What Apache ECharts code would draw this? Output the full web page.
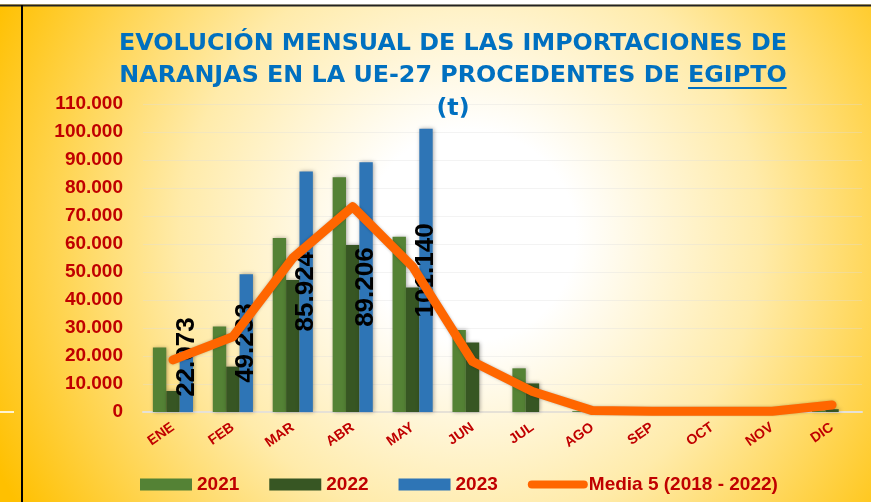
<!DOCTYPE html>
<html>
<head>
<meta charset="utf-8">
<script src="https://cdn.jsdelivr.net/npm/echarts@6/dist/echarts.min.js"></script>
<style>html,body{margin:0;padding:0;}#c{width:871px;height:502px;}</style>
</head>
<body>
<div id="c"></div>
<script>
const categories = ['ENE','FEB','MAR','ABR','MAY','JUN','JUL','AGO','SEP','OCT','NOV','DIC'];
const y2021 = [23000, 30500, 62100, 83800, 62600, 29300, 15600, 300, 0, 0, 0, 500];
const y2022 = [7500, 16200, 47100, 59600, 44500, 24800, 10200, 1000, 0, 0, 0, 1000];
const y2023 = [22073, 49233, 85924, 89206, 101140, null, null, null, null, null, null, null];
const media5 = [18600, 26900, 55000, 73300, 51900, 18000, 7300, 500, 300, 300, 300, 2500];
const titleLines = ['EVOLUCIÓN MENSUAL DE LAS IMPORTACIONES DE', 'NARANJAS EN LA UE-27 PROCEDENTES DE EGIPTO', '(t)'];
const underlined = 'EGIPTO';
const seriesNames = ['2021', '2022', '2023', 'Media 5 (2018 - 2022)'];

const fmt = v => String(v).replace(/\B(?=(\d{3})+(?!\d))/g, '.');
const RED = '#C00000';
const ORANGE = '#FF6600';
const TITLE_FONT = 'bold 23.8px "DejaVu Sans"';
const titleX = 453;
const titleY = [44, 76, 109];

const mc = document.createElement('canvas').getContext('2d');
mc.font = TITLE_FONT;
const w2 = mc.measureText(titleLines[1]).width;
const wE = mc.measureText(underlined).width;
const ux2 = titleX + w2 / 2;
const ux1 = ux2 - wE;

const chart = echarts.init(document.getElementById('c'), null, {renderer: 'canvas'});
const barShadow = {shadowBlur: 4, shadowColor: 'rgba(0,0,0,0.35)', shadowOffsetX: 1, shadowOffsetY: 0};

chart.setOption({
  backgroundColor: {
    type: 'radial', x: 0.54, y: 0.47, r: 1.05,
    colorStops: [
      {offset: 0, color: '#FFFFFF'},
      {offset: 0.2, color: '#FFFFFF'},
      {offset: 0.55, color: '#FFEBAA'},
      {offset: 1, color: '#FFC000'}
    ]
  },
  animation: false,
  textStyle: {fontFamily: '"Liberation Sans"'},
  graphic: [
    {type: 'rect', shape: {x: 0, y: 0, width: 871, height: 4.5}, style: {fill: '#FFFFFF'}, z: 9},
    {type: 'line', shape: {x1: 0, y1: 5.5, x2: 871, y2: 5.5}, style: {stroke: '#222', lineWidth: 2}, z: 10},
    {type: 'line', shape: {x1: 22, y1: 5, x2: 22, y2: 502}, style: {stroke: '#000', lineWidth: 2}, z: 10},
    {type: 'line', shape: {x1: 0, y1: 412, x2: 14, y2: 412}, style: {stroke: 'rgba(255,255,255,0.8)', lineWidth: 2}, z: 10},
    {type: 'text', x: titleX, y: titleY[0], style: {text: titleLines[0], font: TITLE_FONT, fill: '#0070C0', align: 'center', verticalAlign: 'middle'}, z: 10},
    {type: 'text', x: titleX, y: titleY[1], style: {text: titleLines[1], font: TITLE_FONT, fill: '#0070C0', align: 'center', verticalAlign: 'middle'}, z: 10},
    {type: 'text', x: titleX, y: titleY[2], style: {text: titleLines[2], font: TITLE_FONT, fill: '#0070C0', align: 'center', verticalAlign: 'middle'}, z: 10},
    {type: 'line', shape: {x1: ux1, y1: titleY[1] + 12, x2: ux2, y2: titleY[1] + 12}, style: {stroke: '#0070C0', lineWidth: 2}, z: 10}
  ],
  grid: {left: 143, right: 9, top: 104, bottom: 90},
  legend: {
    left: 140, top: 475, padding: 0, itemWidth: 52, itemHeight: 12, itemGap: 30,
    textStyle: {color: RED, fontWeight: 'bold', fontSize: 19, fontFamily: '"Liberation Sans"'},
    data: [
      {name: seriesNames[0], icon: 'rect'},
      {name: seriesNames[1], icon: 'rect'},
      {name: seriesNames[2], icon: 'rect'},
      {name: seriesNames[3], itemStyle: {opacity: 0}, lineStyle: {width: 8, cap: 'round', color: ORANGE}}
    ]
  },
  xAxis: {
    type: 'category', data: categories,
    axisLine: {lineStyle: {color: '#E6E1D6', width: 2}},
    axisTick: {show: false},
    axisLabel: {rotate: 35, margin: 14, color: RED, fontWeight: 'bold', fontSize: 14, interval: 0}
  },
  yAxis: {
    type: 'value', min: 0, max: 110000, interval: 10000,
    axisLine: {show: false}, axisTick: {show: false},
    splitLine: {lineStyle: {color: 'rgba(220,220,220,0.35)', width: 1}},
    axisLabel: {margin: 20, color: RED, fontWeight: 'bold', fontSize: 19, formatter: fmt}
  },
  series: [
    {name: seriesNames[0], type: 'bar', data: y2021, barGap: '0%', barCategoryGap: '33%', itemStyle: Object.assign({color: '#548235'}, barShadow)},
    {name: seriesNames[1], type: 'bar', data: y2022, itemStyle: Object.assign({color: '#375623'}, barShadow)},
    {name: seriesNames[2], type: 'bar', itemStyle: Object.assign({color: '#2E75B6'}, barShadow),
      data: y2023.map((v, i) => i === 0 ? {value: v, label: {offset: [24, 0]}} : v),
      label: {show: true, position: 'inside', rotate: 90, color: '#000', fontWeight: 'bold', fontSize: 26,
        formatter: p => p.value == null ? '' : fmt(p.value)}, z: 3},
    {name: seriesNames[3], type: 'line', data: media5, symbol: 'none', z: 4,
      lineStyle: {color: ORANGE, width: 9, cap: 'round', join: 'round', shadowBlur: 3, shadowColor: 'rgba(0,0,0,0.25)'},
      itemStyle: {color: ORANGE}}
  ]
});
</script>
</body>
</html>
